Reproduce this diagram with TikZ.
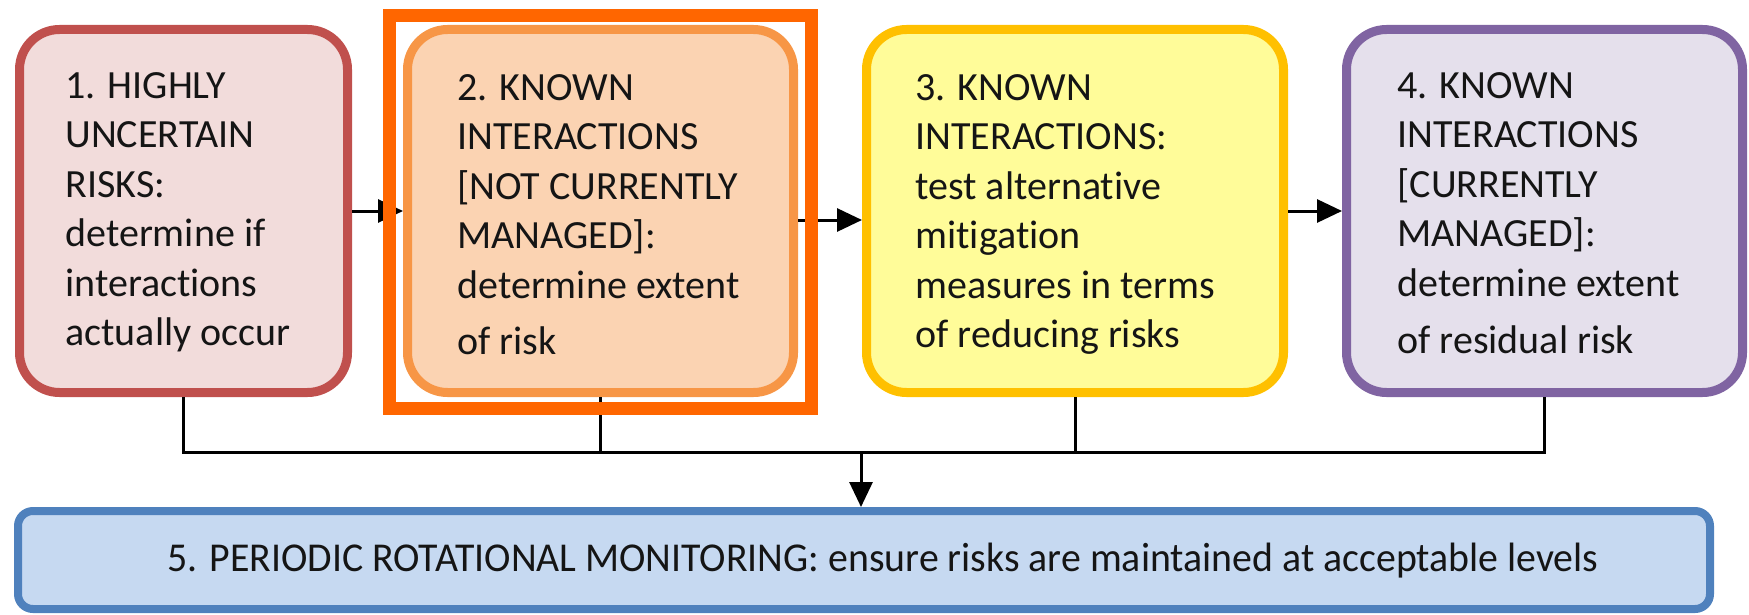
\documentclass[tikz,border=0pt]{standalone}
\usepackage{fontspec}
\setmainfont{Carlito}[RawFeature={-liga;-clig}]
\usepackage{graphicx}
\usetikzlibrary{arrows.meta}
\definecolor{rs}{HTML}{C0504D}\definecolor{rf}{HTML}{F2DCDB}
\definecolor{os}{HTML}{F79646}\definecolor{of}{HTML}{FBD3B2}
\definecolor{hl}{HTML}{FF6600}
\definecolor{ys}{HTML}{FFC000}\definecolor{yf}{HTML}{FFFC99}
\definecolor{ps}{HTML}{8064A2}\definecolor{pf}{HTML}{E5E0EC}
\definecolor{bs}{HTML}{4F81BD}\definecolor{bf}{HTML}{C6D9F1}
\definecolor{txt}{HTML}{151515}
\begin{document}
\begin{tikzpicture}[x=0.5pt,y=-0.5pt,
  boxstyle/.style={draw, rounded corners=20pt, line width=4.5pt, inner sep=0pt,
    minimum height=181.5pt},
  txtstyle/.style={anchor=north west, align=left, inner sep=0pt, text=txt,
    font=\fontsize{20}{24.75}\selectfont},
  arr/.style={line width=1.5pt, -{Triangle[length=12.5pt,width=11.5pt]}},
  bus/.style={line width=1.5pt, line join=miter}]
\useasboundingbox (0,0) rectangle (1749,615);
% boxes
\node[boxstyle, draw=rs, fill=rf, minimum width=164pt] (b1) at (183.5,211) {};
\node[boxstyle, draw=os, fill=of, minimum width=193pt] (b2) at (600.5,211) {};
\node[boxstyle, draw=ys, fill=yf, minimum width=208.5pt] (b3) at (1075,211) {};
\node[boxstyle, draw=ps, fill=pf, minimum width=198pt] (b4) at (1544.5,211) {};
\node[draw=bs, fill=bf, rounded corners=7.5pt, line width=4pt, inner sep=0pt,
  minimum width=846pt, minimum height=49pt] (b5) at (864,560) {};
% texts
\newcommand{\fs}{\rule{0pt}{15pt}}
\node[txtstyle] (t1) at (65,68) {\fs 1. HIGHLY\\UNCERTAIN\\RISKS:\\determine if\\interactions\\actually occur};
\node[txtstyle] (t2) at (457,70) {\fs 2. KNOWN\\INTERACTIONS\\{[NOT CURRENTLY}\\MANAGED]:\\determine extent\\[3.5pt]of risk};
\node[txtstyle] (t3) at (915,70) {\fs 3. KNOWN\\INTERACTIONS:\\test alternative\\mitigation\\measures in terms\\of reducing risks};
\node[txtstyle] (t4) at (1397,68) {\fs 4. KNOWN\\INTERACTIONS\\{[CURRENTLY}\\MANAGED]:\\determine extent\\[4pt]of residual risk};
\node[anchor=base west, inner sep=0pt, text=txt, font=\fontsize{20.5}{24}\selectfont] (t5) at (167,571)
  {\resizebox{715.5pt}{\height}{5. PERIODIC ROTATIONAL MONITORING: ensure risks are maintained at acceptable levels}};
% connectors
\coordinate (busy) at (0,452);
\coordinate (mid) at (861,452);
\draw[arr] (b1.east) -- (b2.west);
\draw[arr] (b2.east |- 0,220) -- (b3.west |- 0,220);
\draw[arr] (b3.east) -- (b4.west);
\draw[bus] (b1.south) -- (b1.south |- busy) -- (b4.south |- busy) -- (b4.south);
\draw[bus] (b2.south) -- (b2.south |- busy);
\draw[bus] (b3.south) -- (b3.south |- busy);
\draw[arr] (mid) -- (mid |- b5.north);
% highlight frame
\node[draw=hl, line width=6.5pt, inner sep=0pt, minimum width=211pt, minimum height=196.5pt] (hlbox) at (600.5,212) {};
\end{tikzpicture}
\end{document}
